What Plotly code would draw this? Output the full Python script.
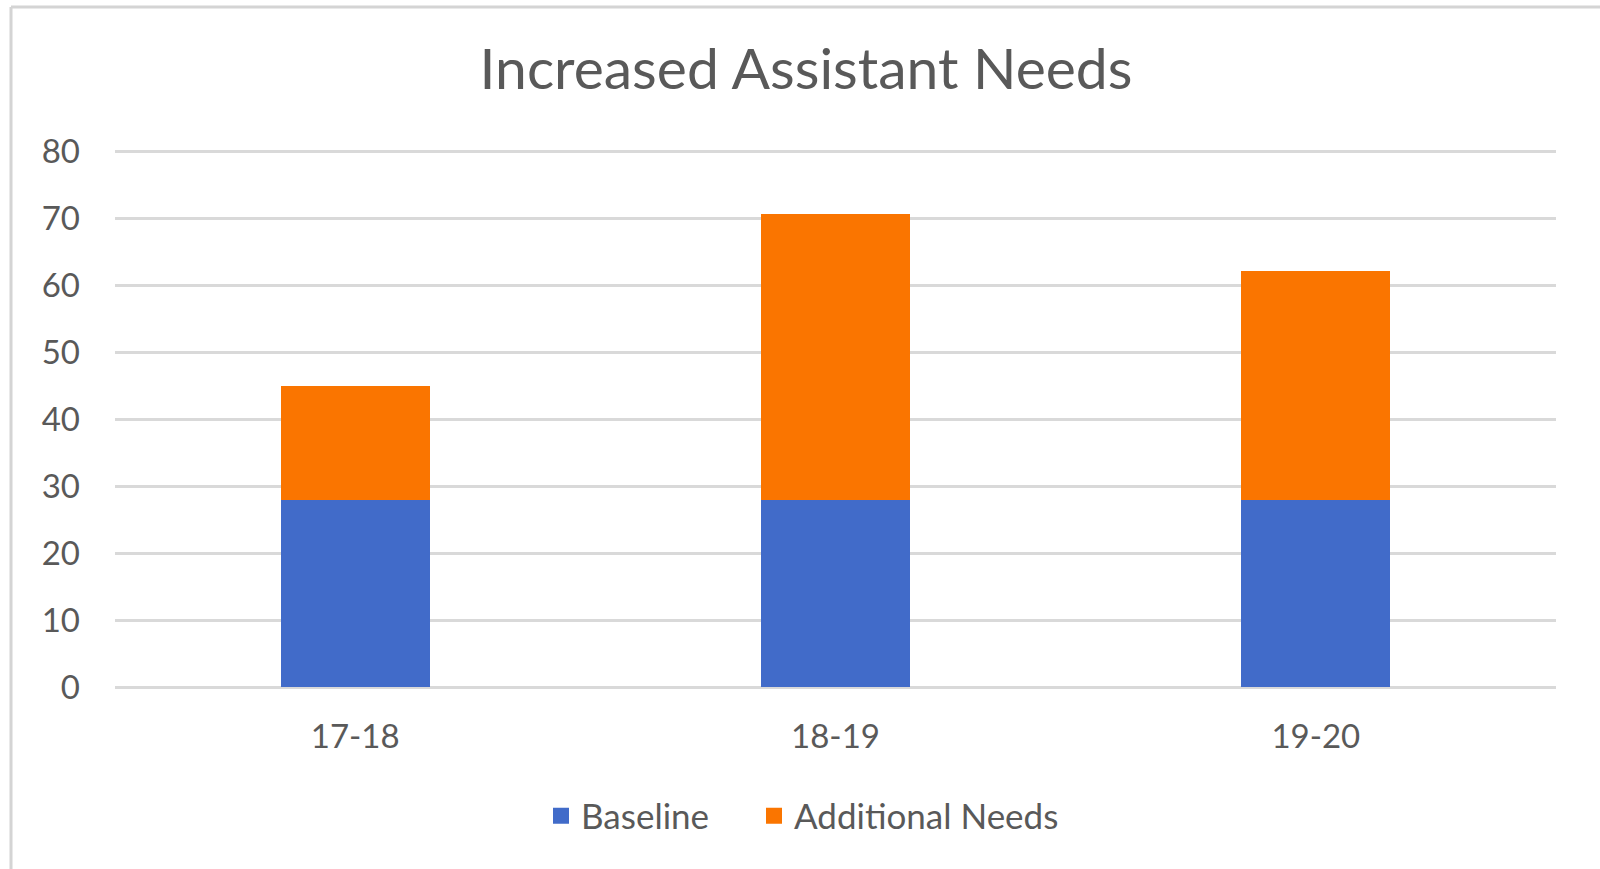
import plotly.graph_objects as go

categories = ["17-18", "18-19", "19-20"]
baseline = [28, 28, 28]
additional = [17, 42.7, 34.1]
y_ticks = [0, 10, 20, 30, 40, 50, 60, 70, 80]
series_names = ["Baseline", "Additional Needs"]
colors = ["#416BC9", "#FA7500"]

W, H = 1600, 869
L, R, T, B = 115, 44, 145, 182
pw, ph = W - L - R, H - T - B

def px_x(px):
    return (px - L) / pw

def px_y(py):
    return (H - B - py) / ph

FONT = "Lato"
TXT = "#595959"

fig = go.Figure()
for vals, name, col in zip([baseline, additional], series_names, colors):
    fig.add_trace(go.Bar(x=categories, y=vals, name=name, showlegend=False,
                         marker=dict(color=col, line=dict(width=0))))
# legend entries with larger square swatches, one legend per entry for spacing
legend_ids = ["legend", "legend2"]
for name, col, lg in zip(series_names, colors, legend_ids):
    fig.add_trace(go.Scatter(x=[None], y=[None], mode="markers", name=name, legend=lg,
                             marker=dict(symbol="square", size=19, color=col)))

legend_common = dict(orientation="h", xanchor="left", y=px_y(816), yanchor="middle",
                     font=dict(size=35, color=TXT), itemwidth=30,
                     bgcolor="rgba(0,0,0,0)")

fig.update_layout(
    width=W, height=H,
    barmode="stack", bargap=0.69,
    paper_bgcolor="white", plot_bgcolor="white",
    margin=dict(l=L, r=R, t=T, b=B),
    font=dict(family=FONT, color=TXT),
    title=dict(text="Increased Assistant Needs", x=806 / W, xref="container",
               y=1 - 69 / H, yref="container", xanchor="center", yanchor="middle",
               font=dict(family=FONT, size=57, color=TXT)),
    xaxis=dict(showgrid=False, showline=False, zeroline=False,
               tickfont=dict(size=33, color=TXT), ticklabelstandoff=27),
    yaxis=dict(range=[0, 81], tickvals=y_ticks, showgrid=True, gridcolor="#D9D9D9",
               gridwidth=3, zeroline=True, zerolinecolor="#D9D9D9", zerolinewidth=3,
               showline=False, tickfont=dict(size=33, color=TXT), ticklabelstandoff=34),
    legend=dict(x=px_x(541), **legend_common),
    legend2=dict(x=px_x(754), **legend_common),
    shapes=[
        dict(type="line", xref="paper", yref="paper", x0=px_x(11), x1=px_x(1600),
             y0=px_y(7), y1=px_y(7), line=dict(color="#D4D4D4", width=3)),
        dict(type="line", xref="paper", yref="paper", x0=px_x(11), x1=px_x(11),
             y0=px_y(7), y1=px_y(869), line=dict(color="#D4D4D4", width=3)),
    ],
)

fig.write_html("out.html")
